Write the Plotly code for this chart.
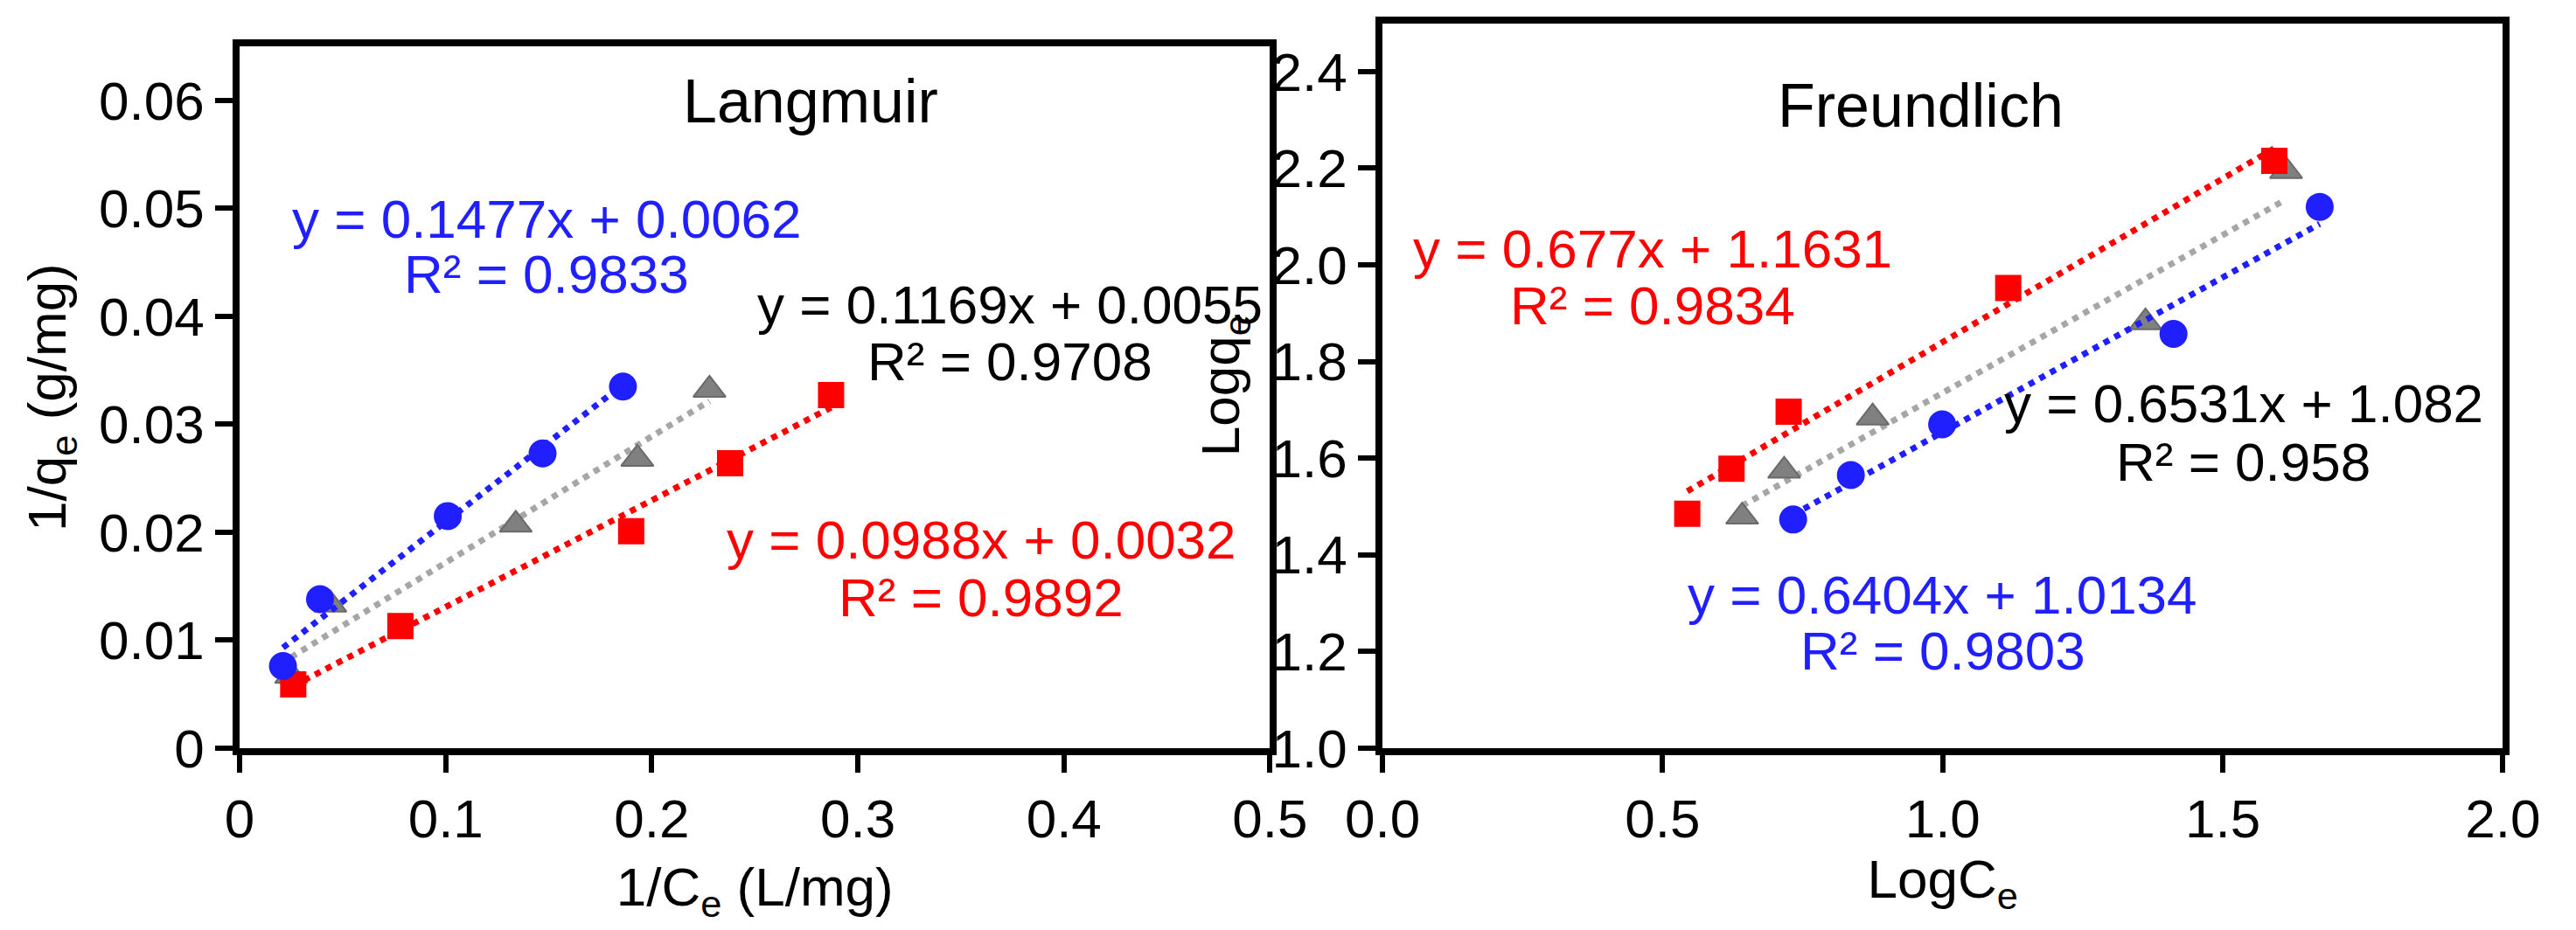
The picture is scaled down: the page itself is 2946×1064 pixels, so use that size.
import plotly.graph_objects as go

# Langmuir data
L_blue_x = [0.021, 0.039, 0.101, 0.147, 0.186]
L_blue_y = [0.0076, 0.0138, 0.0215, 0.0273, 0.0335]
L_gray_x = [0.025, 0.044, 0.134, 0.193, 0.228]
L_gray_y = [0.0067, 0.0133, 0.0207, 0.0268, 0.0332]
L_red_x = [0.026, 0.078, 0.190, 0.238, 0.287]
L_red_y = [0.0059, 0.0113, 0.0201, 0.0264, 0.0327]
L_fit = {"blue": (0.1477, 0.0062), "gray": (0.1169, 0.0055), "red": (0.0988, 0.0032)}

# Freundlich data
F_red_x = [0.544, 0.623, 0.725, 1.117, 1.592]
F_red_y = [1.485, 1.578, 1.696, 1.952, 2.215]
F_gray_x = [0.642, 0.717, 0.875, 1.362, 1.613]
F_gray_y = [1.479, 1.574, 1.684, 1.881, 2.194]
F_blue_x = [0.733, 0.836, 0.999, 1.412, 1.673]
F_blue_y = [1.473, 1.565, 1.670, 1.857, 2.120]
F_fit = {"blue": (0.6404, 1.0134), "gray": (0.6531, 1.082), "red": (0.677, 1.1631)}

C = {"blue": "#1f1fff", "gray": "#808080", "red": "#ff0000"}
LC = {"blue": "#1f1fff", "gray": "#a6a6a6", "red": "#ff0000"}
SYM = {"blue": "circle", "gray": "triangle-up", "red": "square"}
SZ = {"blue": 30, "gray": 32, "red": 28}
FONT = "Liberation Sans, Arial"
FS = 62

fig = go.Figure()

def add(xs, ys, key, fit, xa, ya):
    m, b = fit
    lx = [min(xs), max(xs)]
    fig.add_trace(go.Scatter(x=lx, y=[m * v + b for v in lx], mode="lines",
                             line=dict(color=LC[key], width=7, dash="dot"),
                             xaxis=xa, yaxis=ya, showlegend=False))
    fig.add_trace(go.Scatter(x=xs, y=ys, mode="markers",
                             marker=dict(symbol=SYM[key], size=SZ[key], color=C[key],
                                         line=dict(width=2, color="#6a6a6a" if key == "gray" else C[key])),
                             xaxis=xa, yaxis=ya, showlegend=False))

add(L_gray_x, L_gray_y, "gray", L_fit["gray"], "x", "y")
add(L_red_x, L_red_y, "red", L_fit["red"], "x", "y")
add(L_blue_x, L_blue_y, "blue", L_fit["blue"], "x", "y")
add(F_gray_x, F_gray_y, "gray", F_fit["gray"], "x2", "y2")
add(F_blue_x, F_blue_y, "blue", F_fit["blue"], "x2", "y2")
add(F_red_x, F_red_y, "red", F_fit["red"], "x2", "y2")

ann = [
    ("x", "y", 0.277, 0.0599, "Langmuir", "black", 70),
    ("x", "y", 0.149, 0.0490, "y = 0.1477x + 0.0062", C["blue"], FS),
    ("x", "y", 0.149, 0.0439, "R² = 0.9833", C["blue"], FS),
    ("x", "y", 0.374, 0.0411, "y = 0.1169x + 0.0055", "black", FS),
    ("x", "y", 0.374, 0.0358, "R² = 0.9708", "black", FS),
    ("x", "y", 0.360, 0.0193, "y = 0.0988x + 0.0032", C["red"], FS),
    ("x", "y", 0.360, 0.0140, "R² = 0.9892", C["red"], FS),
    ("x2", "y2", 0.961, 2.329, "Freundlich", "black", 70),
    ("x2", "y2", 0.482, 2.034, "y = 0.677x + 1.1631", C["red"], FS),
    ("x2", "y2", 0.482, 1.915, "R² = 0.9834", C["red"], FS),
    ("x2", "y2", 1.537, 1.713, "y = 0.6531x + 1.082", "black", FS),
    ("x2", "y2", 1.537, 1.592, "R² = 0.958", "black", FS),
    ("x2", "y2", 1.000, 1.318, "y = 0.6404x + 1.0134", C["blue"], FS),
    ("x2", "y2", 1.000, 1.201, "R² = 0.9803", C["blue"], FS),
]
for xa, ya, x, y, t, c, s in ann:
    fig.add_annotation(x=x, y=y, xref=xa, yref=ya, text=t, showarrow=False,
                       font=dict(color=c, size=s, family=FONT))

ax = dict(showline=True, linewidth=8, linecolor="black", mirror=True,
          ticks="outside", ticklen=20, tickwidth=6, tickcolor="black",
          showgrid=False, zeroline=False,
          tickfont=dict(size=FS, family=FONT, color="black"))
tf = dict(size=FS, family=FONT, color="black")

fig.update_layout(
    width=2946, height=1064, plot_bgcolor="white", paper_bgcolor="white",
    margin=dict(l=0, r=0, t=0, b=0),
    xaxis=dict(ax, domain=[0.078, 0.490], range=[0, 0.5],
               tickvals=[0, 0.1, 0.2, 0.3, 0.4, 0.5],
               ticktext=["0", "0.1", "0.2", "0.3", "0.4", "0.5"],
               title=dict(text="1/C<sub>e</sub> (L/mg)", font=tf, standoff=25), anchor="y"),
    yaxis=dict(ax, domain=[0.176, 0.956], range=[0, 0.065],
               tickvals=[0, 0.01, 0.02, 0.03, 0.04, 0.05, 0.06],
               ticktext=["0", "0.01", "0.02", "0.03", "0.04", "0.05", "0.06"],
               title=dict(text="1/q<sub>e</sub> (g/mg)", font=tf, standoff=20), anchor="x"),
    xaxis2=dict(ax, domain=[0.535, 0.983], range=[0, 2.0], dtick=0.5, tickformat=".1f",
                title=dict(text="LogC<sub>e</sub>", font=tf, standoff=5), anchor="y2"),
    yaxis2=dict(ax, domain=[0.176, 0.982], range=[1.0, 2.5], dtick=0.2, tick0=1.0,
                tickformat=".1f",
                title=dict(text="Logq<sub>e</sub>", font=tf, standoff=20), anchor="x2"),
)
fig.write_html("out.html")
